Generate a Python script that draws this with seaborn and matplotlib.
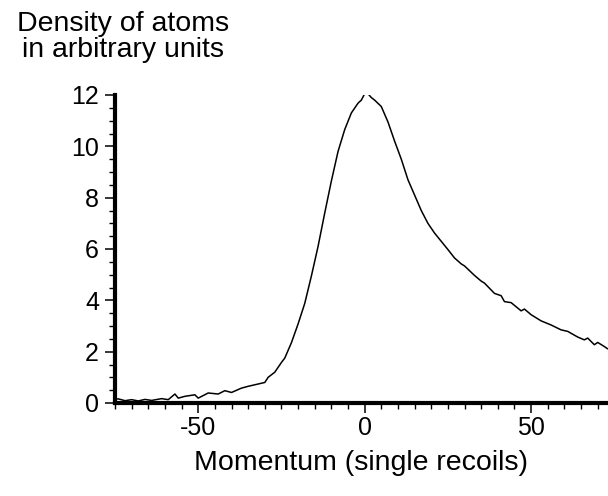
import matplotlib
matplotlib.use("Agg")
import matplotlib.pyplot as plt
from matplotlib.ticker import MultipleLocator
import seaborn as sns
import pandas as pd

momentum = [-75, -74, -72, -70, -68, -66, -64, -61, -59, -57, -56, -54, -51, -50, -47,
            -44, -42, -40, -37, -35, -33, -30, -29, -27, -25, -24, -22, -20, -18, -16,
            -14, -12, -10, -8, -6, -4, -2, -1, 0, 1, 2, 3, 5, 7, 9, 11, 13, 15, 17,
            19, 21, 23, 25, 27, 29, 30, 33, 35, 36, 39, 41, 42, 44, 47, 48, 50, 53,
            56, 59, 61, 64, 66, 67, 69, 70, 72, 73]
density = [0.15, 0.16, 0.09, 0.13, 0.08, 0.14, 0.10, 0.17, 0.13, 0.35, 0.19, 0.26, 0.32, 0.19, 0.39,
           0.35, 0.48, 0.41, 0.58, 0.65, 0.71, 0.80, 1.00, 1.20, 1.58, 1.75, 2.35, 3.08, 3.88, 4.95,
           6.10, 7.40, 8.65, 9.80, 10.65, 11.30, 11.68, 11.80, 12.05, 12.05, 11.90, 11.80, 11.55, 10.95, 10.20, 9.50, 8.70, 8.10, 7.50,
           7.00, 6.62, 6.30, 5.98, 5.65, 5.42, 5.34, 4.97, 4.75, 4.67, 4.27, 4.18, 3.95, 3.91, 3.59, 3.66, 3.44, 3.20,
           3.04, 2.85, 2.79, 2.57, 2.46, 2.53, 2.27, 2.36, 2.20, 2.11]
x_ticks = [-50, 0, 50]
y_ticks = [0, 2, 4, 6, 8, 10, 12]

sns.set_theme(style="ticks")
plt.rcParams["font.family"] = ["Liberation Sans", "DejaVu Sans"]

df = pd.DataFrame({"Momentum": momentum, "Density": density})

fig = plt.figure(figsize=(6.08, 4.96), dpi=100)
ax = fig.add_axes([115 / 608, 93 / 496, 1 - 115 / 608, 308 / 496])
sns.lineplot(data=df, x="Momentum", y="Density", ax=ax, color="black", linewidth=1.1)

ax.set_xlim(-75, 73.1)
ax.set_ylim(0, 12)
ax.set_xticks(x_ticks)
ax.set_xticklabels([str(v) for v in x_ticks])
ax.set_yticks(y_ticks)
ax.set_yticklabels([str(v) for v in y_ticks])
ax.xaxis.set_minor_locator(MultipleLocator(5))
ax.yaxis.set_minor_locator(MultipleLocator(0.5))
ax.tick_params(which="major", length=7.5, width=1.1, labelsize=18, color="black", labelcolor="black", direction="out")
ax.tick_params(axis="x", which="major", pad=2)
ax.tick_params(axis="y", which="major", pad=4)
ax.tick_params(which="minor", length=4, width=1.0, color="black", direction="out")
for side in ["top", "right"]:
    ax.spines[side].set_visible(False)
for side in ["left", "bottom"]:
    ax.spines[side].set_linewidth(3)
    ax.spines[side].set_color("black")

ax.set_xlabel("Momentum (single recoils)", fontsize=20.5, labelpad=7, color="black")
ax.set_ylabel("")
fig.text(123 / 608, 1 - 11 / 496, "Density of atoms\nin arbitrary units", ha="center", va="top",
         fontsize=20.5, linespacing=1.02, color="black")

fig.savefig("out.png", dpi=100)
